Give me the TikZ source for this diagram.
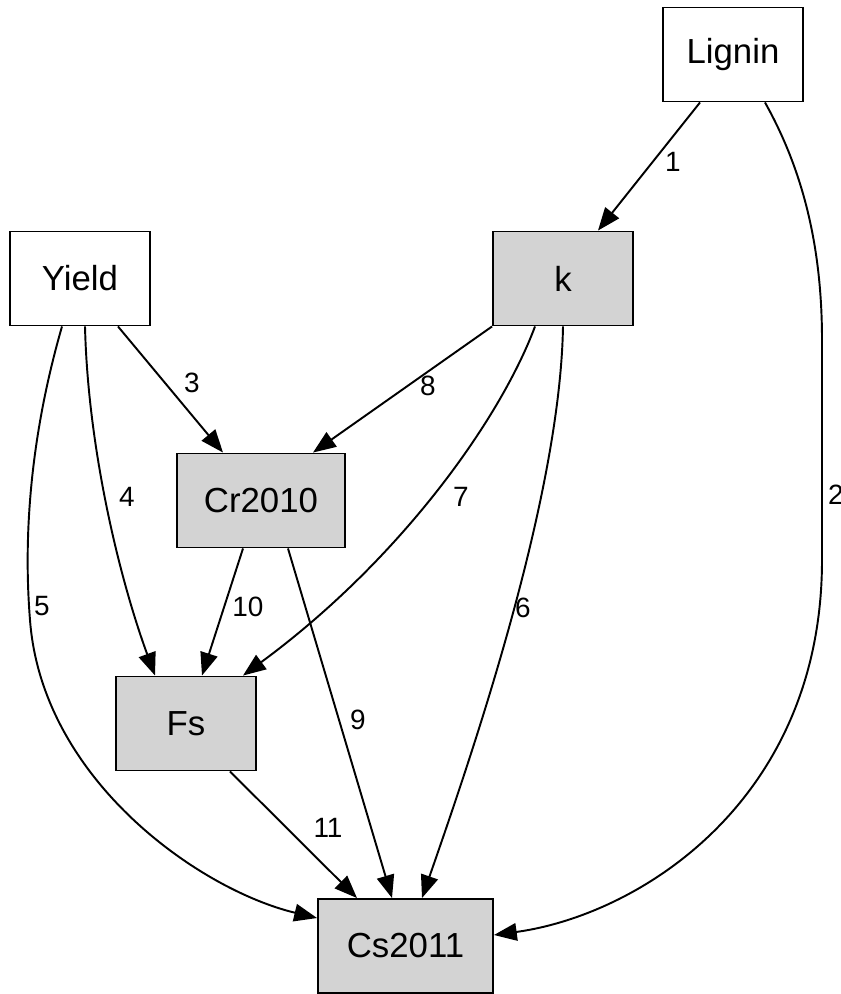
\documentclass[tikz,border=0pt]{standalone}
\usepackage{fontspec}
\setmainfont{Liberation Sans}
\usepackage{xcolor}
\usepackage{tikz}
\usetikzlibrary{arrows.meta}

\definecolor{boxgray}{HTML}{D3D3D3}

\begin{document}
\begin{tikzpicture}[x=0.02cm,y=-0.02cm]
\useasboundingbox (0,0) rectangle (840,994);

\begin{scope}[every node/.style={rectangle,draw=black,line width=1.1pt,inner sep=0pt,
              minimum width=2.8cm,minimum height=1.88cm,font=\fontsize{19.8}{22}\selectfont}]
    \node (Lignin) at (733,54.5) {Lignin};
    \node[fill=boxgray] (k) at (563,278.5) {k};
    \node (Yield) at (80,278.5) {Yield};
    \node[fill=boxgray,minimum width=3.36cm] (Cr) at (261,500.5) {Cr2010};
    \node[fill=boxgray] (Fs) at (186,723.5) {Fs};
    \node[fill=boxgray,minimum width=3.5cm] (Cs) at (405.5,946) {Cs2011};
    \end{scope}

\begin{scope}[>={Triangle[length=13pt,width=10pt]},line width=1.1pt]
    \path [->] ([xshift=-0.66cm]Lignin.south) edge ([xshift=0.7cm]k.north);
    \draw [->] ([xshift=0.64cm]Lignin.south) .. controls (800,165) and (822,240) .. (822,340)
        -- (822,560) .. controls (822,800) and (640,915) .. ([yshift=0.22cm]Cs.east);
    \path [->] ([xshift=0.76cm]Yield.south) edge ([xshift=-0.76cm]Cr.north);
    \draw [->] ([xshift=0.1cm]Yield.south) .. controls (88,450) and (120,580) .. ([xshift=-0.62cm]Fs.north);
    \draw [->] ([xshift=-0.36cm]Yield.south) .. controls (35,420) and (22,520) .. (30,620)
        .. controls (42,780) and (200,890) .. ([yshift=0.56cm]Cs.west);
    \draw [->] (k.south) .. controls (560,500) and (470,760) .. ([xshift=0.33cm]Cs.north);
    \draw [->] ([xshift=-0.56cm]k.south) .. controls (500,420) and (400,560) .. ([xshift=1.14cm]Fs.north);
    \path [->] (k.south west) edge ([xshift=1.04cm]Cr.north);
    \path [->] ([xshift=0.54cm]Cr.south) edge ([xshift=-0.27cm]Cs.north);
    \path [->] ([xshift=-0.36cm]Cr.south) edge ([xshift=0.32cm]Fs.north);
    \path [->] ([xshift=0.88cm]Fs.south) edge ([xshift=-0.97cm]Cs.north);
    \end{scope}

% edge numbers
\begin{scope}[every node/.style={inner sep=0pt,font=\fontsize{15.9}{18}\selectfont}]
    \node (n1) at (673,162) {1};
    \node (n2) at (836,495) {2};
    \node (n3) at (192,383) {3};
    \node (n4) at (127,497) {4};
    \node (n5) at (42,606) {5};
    \node (n6) at (523,608) {6};
    \node (n7) at (461,497) {7};
    \node (n8) at (428,386) {8};
    \node (n9) at (358,720) {9};
    \node (n10) at (248,607) {10};
    \node (n11) at (328,828) {11};
    \end{scope}

\end{tikzpicture}
\end{document}
